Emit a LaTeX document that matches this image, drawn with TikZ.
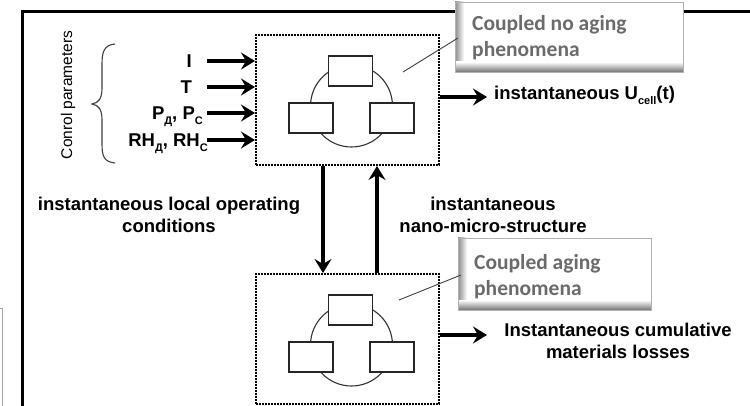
\documentclass[tikz,border=0pt]{standalone}
\usepackage{fontspec}
\setmainfont{Liberation Sans}
\newfontfamily\calibfont{Carlito}
\usetikzlibrary{arrows.meta,calc}

\newcommand{\lowsub}[1]{\raisebox{-0.45ex}{\fontsize{11}{11}\selectfont #1}}

\tikzset{
  frameline/.style={line width=3pt, black},
  sysbox/.style={draw=black, line width=2pt, dash pattern=on 1.6pt off 1.4pt,
                 minimum width=183pt, minimum height=130pt, inner sep=0pt},
  partbox/.style={draw=black!85, line width=1.8pt, fill=white,
                  minimum width=44pt, minimum height=30pt, inner sep=0pt},
  ring/.style={draw=black!80, line width=1.1pt},
  bigarrow/.style={line width=3.6pt, -{Stealth[length=14pt,width=17pt,inset=5pt]}},
  boldtext/.style={font=\fontsize{18.5}{22}\selectfont\bfseries, inner sep=0pt},
  calltext/.style={font=\calibfont\fontsize{21.5}{26}\selectfont\bfseries,
                   text=black!58, align=left, inner sep=0pt},
  leader/.style={draw=black!75, line width=0.9pt}
}

% three coupled parts sitting on a ring
\newcommand{\coupledparts}[1]{%
  \draw[ring] ($(#1)+(4,6)$) circle (41);
  \node[partbox] at ($(#1)+(3,-29)$) {};
  \node[partbox] at ($(#1)+(-36.5,18)$) {};
  \node[partbox] at ($(#1)+(44.5,18)$) {};
}

% bevelled call-out box: white face, shaded left and bottom edges
\newcommand{\callout}[2]{%
  \fill[white] (#1) rectangle (#2);
  \shade[left color=black!45, right color=white]
    (#1) rectangle ($(#1 |- #2)+(9,0)$);
  \shade[top color=white, bottom color=black!55]
    ($(#1 |- #2)+(0,-10)$) rectangle (#2);
  \draw[black!30, line width=0.8pt] (#1) rectangle (#2);
}

\begin{document}
\begin{tikzpicture}[x=1pt, y=-1pt]
\useasboundingbox (0,0) rectangle (750,406);
\fill[white] (0,0) rectangle (750,406);

% outer frame
\draw[frameline] (22,406) -- (22,11.5) -- (750,11.5);
\draw[black!35, line width=1pt] (0,308) -- (2,308) -- (2,406);

% coupled subsystems
\node[sysbox] (sysA) at (347.5,100) {};
\node[sysbox] (sysB) at (347.5,339) {};
\coupledparts{sysA}
\coupledparts{sysB}

% control parameters
\node[rotate=90, font=\fontsize{15.5}{15.5}\selectfont, inner sep=0pt] (ctrl) at (68,95) {Conrol parameters};
\draw[black!75, line width=1.1pt] (115,44) .. controls (104,45) and (102,52) .. (102,64)
   -- (102,88) .. controls (102,98) and (99,103) .. (92,104)
   .. controls (99,105) and (102,110) .. (102,120)
   -- (102,144) .. controls (102,156) and (104,162) .. (115,163);

\node[boldtext, anchor=base east] (pI) at (192,68) {I};
\node[boldtext, anchor=base east] (pT) at (192,94) {T};
\node[boldtext, anchor=base east] (pP) at (203,120) {P\lowsub{Д}, P\lowsub{C}};
\node[boldtext, anchor=base east] (pRH) at (208,147) {RH\lowsub{Д}, RH\lowsub{C}};

\coordinate (aI) at (207,61);
\coordinate (aT) at (207,87);
\coordinate (aP) at (207,113);
\coordinate (aRH) at (207,140);
\foreach \c in {aI,aT,aP,aRH}
  \draw[bigarrow] (\c) -- (sysA.west |- \c);

% exchanges between the two levels
\draw[bigarrow] ([xshift=-24.5pt]sysA.south) -- ([xshift=-24.5pt]sysB.north);
\draw[bigarrow] ([xshift=29.5pt]sysB.north) -- ([xshift=29.5pt]sysA.south);

\node[boldtext, align=center, anchor=base] (locop) at (169,233)
  {instantaneous local operating\\conditions};
\node[boldtext, align=center, anchor=base] (nano) at (493,233)
  {instantaneous\\nano-micro-structure};

% outputs
\node[boldtext, anchor=base west] (outA) at (494,100) {instantaneous U\lowsub{cell}(t)};
\coordinate (oA) at (487,97);
\draw[bigarrow] (sysA.east |- oA) -- (oA);

\node[boldtext, align=center, anchor=base] (outB) at (618,358)
  {Instantaneous cumulative\\materials losses};
\coordinate (oB) at (487,335);
\draw[bigarrow] (sysB.east |- oB) -- (oB);

% call-outs
\callout{455,2}{683,72}
\node[calltext, anchor=base west] (noage) at (472,57) {Coupled no aging\\phenomena};
\coordinate (tipA) at (403,72);
\draw[leader] (tipA) -- (458,38);

\callout{458,238}{651,310}
\node[calltext, anchor=base west] (age) at (474,295) {Coupled aging\\phenomena};
\coordinate (tipB) at (399,300);
\draw[leader] (tipB) -- (461,275);
\end{tikzpicture}
\end{document}
